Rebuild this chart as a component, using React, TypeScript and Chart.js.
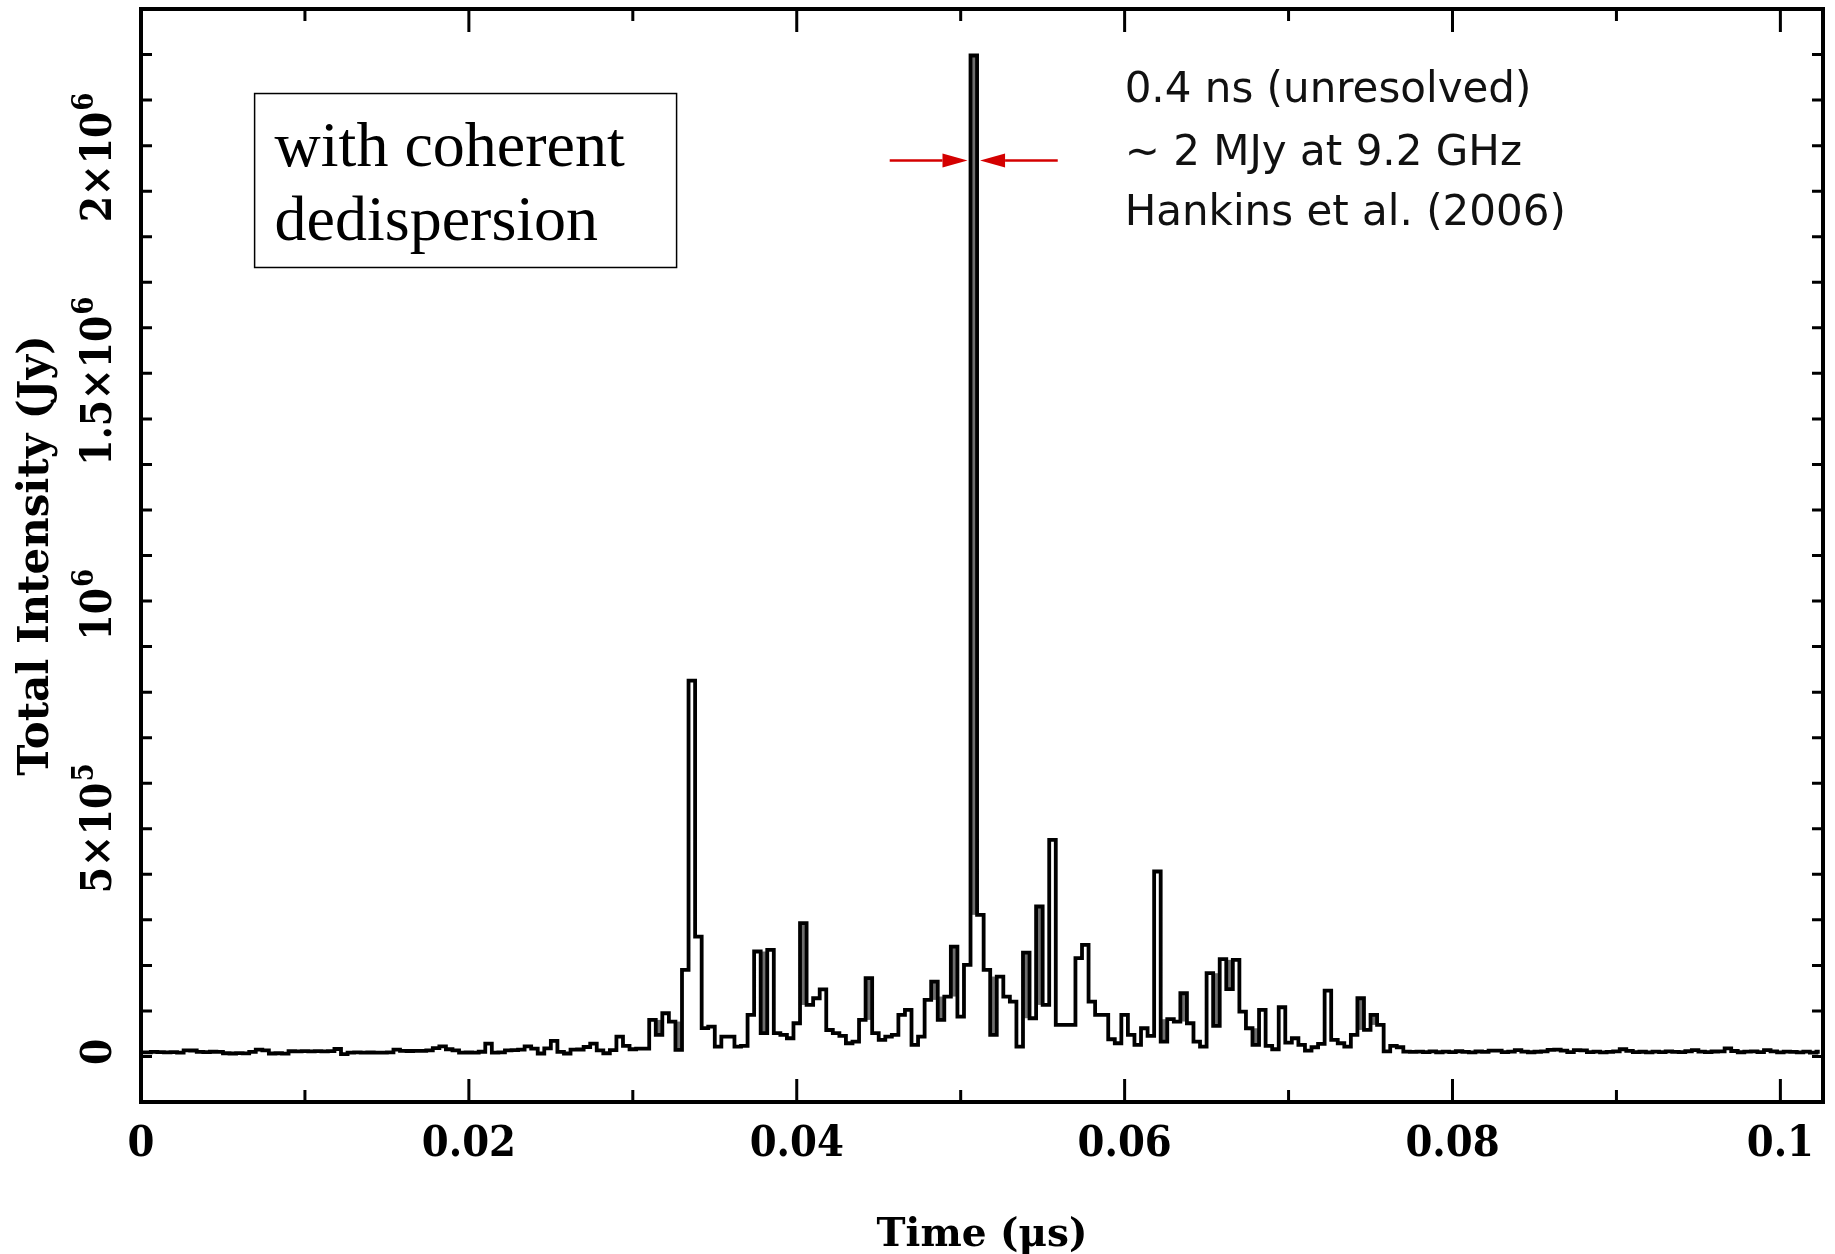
import React, { useEffect, useRef } from 'react';
import { Chart, registerables } from 'chart.js';

Chart.register(...registerables);

// ---- data: total intensity (Jy) per 0.4 ns bin, bin centres at k * 0.0004 us ----
const BIN_WIDTH_US = 0.0004;

// bins 0..72 (quiet leading part)
const PRE_BURST = [
  -1000, -1200, 300, -500, -1200, -600, -1800, 3500, 3200, 200,
  -300, 400, 0, -3000, -3500, -2500, -3200, 200, 5000, 3500,
  -3500, -3000, -3800, 1500, 1200, 1800, 1400, 1600, 1300, 1700,
  6500, -5000, -1500, -1200, -1800, -1300, -1600, -1400, -1000, 5000,
  2200, 2000, 2500, 2100, 3600, 8500, 12500, 6000, 3500, -1500,
  -1300, -1700, 400, 18500, -1500, -1200, 3500, 3800, 5200, 12500,
  7500, -3500, 8000, 24500, 300, -3500, 5000, 5400, 11000, 18500,
  3500, -3000, 4000,
];

// bins 73..192 (the burst)
const BURST = [
  34300, 13400, 6000, 7500, 7500, 71600, 38000, 86500, 67900, 4500,
  183400, 830000, 258000, 53000, 56700, 11900, 34300, 34300, 11900, 13400,
  82800, 224500, 41800, 228000, 41800, 38000, 30600, 64100, 288000, 105000,
  120000, 140000, 49000, 41800, 35800, 19400, 23000, 71600, 164800, 41800,
  26800, 34300, 38000, 82800, 94000, 15700, 34300, 116300, 157300, 71600,
  123800, 235600, 79000, 194600, 2228000, 306500, 183400, 38000, 168500, 123800,
  112600, 11900, 222200, 75300, 325100, 105100, 474300, 60400, 60400, 60400,
  209500, 239400, 112600, 82800, 82800, 28300, 19400, 82800, 38000, 15700,
  52900, 35800, 403400, 23100, 73100, 67900, 131200, 64100, 23100, 11900,
  176000, 58200, 207300, 140200, 205800, 90200, 52900, 15700, 94000, 13400,
  6000, 99900, 20900, 30600, 15700, 3000, 10400, 17900, 137200, 26800,
  19400, 11900, 38000, 120000, 49200, 82800, 60400, 1000, 13400, 10400,
];

// bins 193..256 (quiet trailing part)
const POST_BURST = [
  500, 0, 800, -500, 1200, -800, 600, -400, 1500, 300,
  -1000, 900, 200, 3000, 2800, -300, 500, 4000, 600, -800,
  400, 1200, 4500, 5000, 3000, -500, 4000, 3500, -300, 700,
  -1200, 300, 1000, 6000, 2500, -600, 400, -1000, 800, -400,
  1100, 200, -700, 1500, 4000, 600, -300, 900, 1200, 8000,
  2000, -800, 500, 1300, -500, 4000, 1000, -900, 600, 300,
  -1200, 800, -1500, 400,
];

const INTENSITY = [...PRE_BURST, ...BURST, ...POST_BURST];
const TIME = INTENSITY.map((_, i) => Math.round(i * BIN_WIDTH_US * 1e5) / 1e5);

// narrow bins that render as grey-filled in the original plot
const GRAY_BINS = [79, 82, 95, 101, 111, 121, 122, 124, 127, 130, 135, 137, 156, 159, 164, 166, 170, 186, 188];

// axes
const X_MIN = 0;
const X_MAX = 0.1026;
const Y_MIN = -112000;
const Y_MAX = 2332000;
const X_MINOR = 0.01;
const X_MAJOR = 0.02;
const Y_MINOR = 100000;
const Y_MAJOR = 500000;
const Y_LABEL_VALUES = [0, 500000, 1000000, 1500000, 2000000];
const Y_LABEL_BASE = ['0', '5×10', '10', '1.5×10', '2×10'];
const Y_LABEL_EXP = ['', '5', '6', '6', '6'];
const X_TITLE = 'Time (μs)';
const Y_TITLE = 'Total Intensity (Jy)';

// annotations (data coordinates)
const NOTE_LINES = ['0.4 ns (unresolved)', '∼ 2 MJy at 9.2 GHz', 'Hankins et al. (2006)'];
const NOTE_X = 0.06;
const NOTE_Y = [2123000, 1984000, 1848000];
const BOX_LINES = ['with coherent', 'dedispersion'];
const BOX_X = [0.00693, 0.03267];
const BOX_Y = [2143000, 1754000];
const BOX_TEXT_X = 0.00815;
const BOX_TEXT_Y = [1982000, 1816000];
const ARROW_Y = 1993000;
const ARROW_LEFT_FROM = 0.04567;
const ARROW_LEFT_TO = 0.0506;
const ARROW_RIGHT_FROM = 0.05592;
const ARROW_RIGHT_TO = 0.051;

const TICK_FONT = '"DejaVu Serif Condensed", "DejaVu Serif", serif';
const TITLE_FONT = '"DejaVu Serif", serif';
const BOX_FONT = '"Liberation Serif", "Times New Roman", serif';
const NOTE_FONT = '"DejaVu Sans", sans-serif';

const isMultiple = (v: number, step: number) => Math.abs(v / step - Math.round(v / step)) < 1e-6;

const pgplotPlugin = {
  id: 'pgplotDecor',
  beforeDatasetsDraw(chart: any) {
    const { ctx, chartArea, scales } = chart;
    const x = scales.x;
    const y = scales.y;
    ctx.save();
    ctx.beginPath();
    ctx.rect(chartArea.left, chartArea.top, chartArea.right - chartArea.left, chartArea.bottom - chartArea.top);
    ctx.clip();
    ctx.fillStyle = '#6e6e6e';
    for (const k of GRAY_BINS) {
      const v = INTENSITY[k];
      const a = INTENSITY[k - 1];
      const b = INTENSITY[k + 1];
      let lo: number;
      let hi: number;
      if (v >= a && v >= b) {
        hi = v;
        lo = Math.max(a, b);
      } else if (v <= a && v <= b) {
        lo = v;
        hi = Math.min(a, b);
      } else continue;
      const xl = x.getPixelForValue(TIME[k] - BIN_WIDTH_US / 2);
      const xr = x.getPixelForValue(TIME[k] + BIN_WIDTH_US / 2);
      const yt = y.getPixelForValue(hi);
      const yb = y.getPixelForValue(lo);
      ctx.fillRect(xl, yt, xr - xl, yb - yt);
    }
    ctx.restore();
  },
  afterDraw(chart: any) {
    const { ctx, chartArea, scales } = chart;
    const x = scales.x;
    const y = scales.y;
    const { left, right, top, bottom } = chartArea;
    ctx.save();
    // ticks (inward, all four sides)
    ctx.strokeStyle = '#000';
    ctx.lineWidth = 3;
    ctx.lineCap = 'butt';
    for (const t of x.ticks) {
      const v = t.value;
      if (v < X_MIN - 1e-9 || v > X_MAX + 1e-9) continue;
      const px = x.getPixelForValue(v);
      const len = isMultiple(v, X_MAJOR) ? 23 : 12;
      ctx.beginPath();
      ctx.moveTo(px, bottom);
      ctx.lineTo(px, bottom - len);
      ctx.moveTo(px, top);
      ctx.lineTo(px, top + len);
      ctx.stroke();
    }
    for (const t of y.ticks) {
      const v = t.value;
      const py = y.getPixelForValue(v);
      const len = isMultiple(v, Y_MAJOR) ? 21 : 11;
      ctx.beginPath();
      ctx.moveTo(left, py);
      ctx.lineTo(left + len, py);
      ctx.moveTo(right, py);
      ctx.lineTo(right - len, py);
      ctx.stroke();
    }
    // frame
    ctx.lineWidth = 4;
    ctx.strokeRect(left, top, right - left, bottom - top);

    // y tick labels, rotated, with real superscripts
    ctx.fillStyle = '#000';
    ctx.textBaseline = 'middle';
    ctx.textAlign = 'left';
    const baseFont = `bold 42px ${TICK_FONT}`;
    const expFont = `bold 29px ${TICK_FONT}`;
    Y_LABEL_VALUES.forEach((v, i) => {
      const py = y.getPixelForValue(v);
      ctx.font = baseFont;
      const wb = ctx.measureText(Y_LABEL_BASE[i]).width;
      ctx.font = expFont;
      const we = Y_LABEL_EXP[i] ? ctx.measureText(Y_LABEL_EXP[i]).width + 1 : 0;
      const total = wb + we;
      ctx.save();
      ctx.translate(100, py);
      ctx.rotate(-Math.PI / 2);
      ctx.font = baseFont;
      ctx.fillText(Y_LABEL_BASE[i], -total / 2, 0);
      if (Y_LABEL_EXP[i]) {
        ctx.font = expFont;
        ctx.fillText(Y_LABEL_EXP[i], -total / 2 + wb + 1, -15);
      }
      ctx.restore();
    });

    // boxed label
    const bx0 = x.getPixelForValue(BOX_X[0]);
    const bx1 = x.getPixelForValue(BOX_X[1]);
    const by0 = y.getPixelForValue(BOX_Y[0]);
    const by1 = y.getPixelForValue(BOX_Y[1]);
    ctx.fillStyle = '#fff';
    ctx.fillRect(bx0, by0, bx1 - bx0, by1 - by0);
    ctx.lineWidth = 1.5;
    ctx.strokeStyle = '#000';
    ctx.strokeRect(bx0, by0, bx1 - bx0, by1 - by0);
    ctx.fillStyle = '#000';
    ctx.font = `64px ${BOX_FONT}`;
    ctx.textAlign = 'left';
    ctx.textBaseline = 'alphabetic';
    BOX_LINES.forEach((s, i) => {
      ctx.fillText(s, x.getPixelForValue(BOX_TEXT_X), y.getPixelForValue(BOX_TEXT_Y[i]));
    });

    // notes
    ctx.font = `42px ${NOTE_FONT}`;
    ctx.fillStyle = '#111';
    NOTE_LINES.forEach((s, i) => {
      ctx.fillText(s, x.getPixelForValue(NOTE_X), y.getPixelForValue(NOTE_Y[i]));
    });

    // red arrows
    const ay = y.getPixelForValue(ARROW_Y);
    const drawArrow = (fromV: number, toV: number, dir: number) => {
      const fx = x.getPixelForValue(fromV);
      const tx = x.getPixelForValue(toV) - dir * 3;
      const headLen = 25;
      const headHalf = 7;
      ctx.strokeStyle = '#d40000';
      ctx.fillStyle = '#d40000';
      ctx.lineWidth = 2.5;
      ctx.beginPath();
      ctx.moveTo(fx, ay);
      ctx.lineTo(tx - dir * headLen, ay);
      ctx.stroke();
      ctx.beginPath();
      ctx.moveTo(tx, ay);
      ctx.lineTo(tx - dir * headLen, ay - headHalf);
      ctx.lineTo(tx - dir * headLen, ay + headHalf);
      ctx.closePath();
      ctx.fill();
    };
    drawArrow(ARROW_LEFT_FROM, ARROW_LEFT_TO, 1);
    drawArrow(ARROW_RIGHT_FROM, ARROW_RIGHT_TO, -1);
    ctx.restore();
  },
};

export default function App() {
  const canvasRef = useRef<HTMLCanvasElement | null>(null);

  useEffect(() => {
    const canvas = canvasRef.current;
    if (!canvas) return;
    const points = TIME.map((t, i) => ({ x: t, y: INTENSITY[i] }));
    const chart = new Chart(canvas, {
      type: 'line',
      data: {
        datasets: [
          {
            label: 'Total intensity',
            data: points,
            stepped: 'middle',
            borderColor: '#000',
            borderWidth: 3.8,
            pointRadius: 0,
            fill: false,
            tension: 0,
          },
        ],
      },
      options: {
        animation: false,
        responsive: false,
        maintainAspectRatio: false,
        devicePixelRatio: 1,
        layout: { padding: { left: 0, top: 9, right: 12, bottom: 0 } },
        plugins: { legend: { display: false }, tooltip: { enabled: false } },
        scales: {
          x: {
            type: 'linear',
            min: X_MIN,
            max: X_MAX,
            afterFit: (s: any) => {
              s.height = 152;
            },
            grid: { display: false, drawTicks: false },
            border: { display: false },
            ticks: {
              stepSize: X_MINOR,
              includeBounds: false,
              autoSkip: false,
              maxRotation: 0,
              minRotation: 0,
              padding: 17,
              color: '#000',
              font: { family: TICK_FONT, size: 43, weight: 'bold' },
              callback: (v: any) => {
                const n = Number(v);
                if (!isMultiple(n, X_MAJOR)) return '';
                if (Math.abs(n) < 1e-9) return '0';
                const s = n.toFixed(2);
                return s.endsWith('0') ? n.toFixed(1) : s;
              },
            },
            title: {
              display: true,
              text: X_TITLE,
              color: '#000',
              font: { family: TITLE_FONT, size: 39, weight: 'bold' },
              padding: { top: 0, bottom: -5 },
            },
          },
          y: {
            type: 'linear',
            min: Y_MIN,
            max: Y_MAX,
            afterFit: (s: any) => {
              s.width = 141;
            },
            grid: { display: false, drawTicks: false },
            border: { display: false },
            ticks: { stepSize: Y_MINOR, includeBounds: false, display: false },
            title: {
              display: true,
              text: Y_TITLE,
              color: '#000',
              font: { family: TITLE_FONT, size: 42, weight: 'bold' },
              padding: { top: 12, bottom: 0 },
            },
          },
        },
      },
      plugins: [pgplotPlugin],
    } as any);
    return () => chart.destroy();
  }, []);

  return (
    <div style={{ position: 'fixed', left: 0, top: 0, width: 1835, height: 1254, background: '#fff' }}>
      <canvas ref={canvasRef} width={1835} height={1254} style={{ display: 'block' }} />
    </div>
  );
}
